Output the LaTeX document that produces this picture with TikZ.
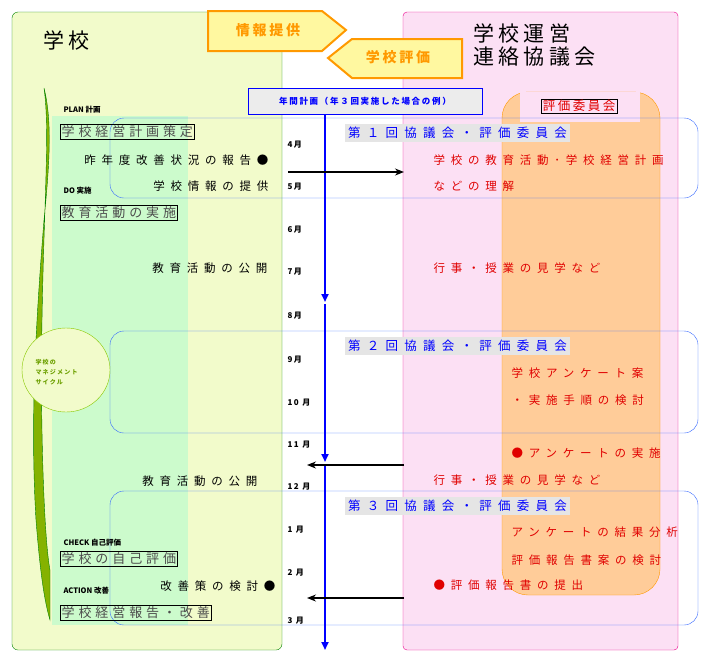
\documentclass[tikz,border=0pt]{standalone}
\usepackage{fontspec}
\setmainfont{Noto Sans CJK JP}
\newfontfamily\jpa[LetterSpace=50]{Noto Sans CJK JP}
\newfontfamily\jpb[LetterSpace=30]{Noto Sans CJK JP}
\newfontfamily\jpc[LetterSpace=20]{Noto Sans CJK JP}
\usetikzlibrary{arrows.meta}
\definecolor{lgreen}{HTML}{F2FBCB}
\definecolor{mgreen}{HTML}{CCFBCC}
\definecolor{lpink}{HTML}{FCE0F4}
\definecolor{lorange}{HTML}{FFCC99}
\definecolor{borange}{HTML}{FF9900}
\definecolor{lyell}{HTML}{FFF8A0}
\definecolor{tblue}{HTML}{0000FF}
\definecolor{rblue}{HTML}{3366FF}
\definecolor{tred}{HTML}{E00000}
\definecolor{leaf}{HTML}{88C800}
\tikzset{
 mon/.style={font=\jpc\fontsize{8}{8}\selectfont\bfseries, anchor=west},
 lt/.style={font=\jpa\fontsize{11.5}{11.5}\selectfont, anchor=east},
 rt/.style={font=\jpa\fontsize{11.5}{11.5}\selectfont, text=tred, anchor=west},
 bx/.style={draw=black, fill=none, font=\jpb\fontsize{13}{13}\selectfont, text=black!70, anchor=west, inner sep=1.5pt},
 phase/.style={font=\fontsize{7.5}{7.5}\selectfont\itshape\bfseries, anchor=west},
 rnd/.style={draw=rblue, rounded corners=14pt, thin},
 rtitle/.style={fill=gray!20, text=tblue, font=\jpa\fontsize{12.5}{12.5}\selectfont, anchor=west, inner sep=3pt},
 tl/.style={draw=tblue, line width=2.2pt, -{Triangle[width=7pt,length=8pt]}},
 arr/.style={draw=black, line width=1.3pt, -{Stealth[length=9pt,width=7pt]}}
}
\begin{document}
\begin{tikzpicture}[x=1pt,y=-1pt]
\useasboundingbox (0,0) rectangle (705,665);
% left box
\draw[draw=green!50!black, fill=lgreen, rounded corners=6pt] (12,12) rectangle (282,650);
\fill[mgreen] (52,116) rectangle (188,625);
% right box
\draw[draw=magenta, fill=lpink, rounded corners=4pt] (403,12) rectangle (678,650);
\draw[draw=borange, fill=lorange, rounded corners=26pt] (502,92) rectangle (660,595);
\fill[lpink] (520,92) rectangle (640,122);
\node[draw=black, text=tred, font=\jpc\fontsize{12.5}{12.5}\selectfont, inner sep=1.5pt] (iin) at (579,106) {評価委員会};
% titles
\node[font=\jpc\fontsize{21}{21}\selectfont, anchor=west] (gk) at (40,40) {学校};
\node[font=\jpc\fontsize{21}{21}\selectfont, anchor=west, align=left] (un) at (470,45) {学校運営\\[2pt]連絡協議会};
% banners
\draw[draw=borange, fill=lyell, line width=2pt] (208,11) -- (322,11) -- (346,30) -- (322,51) -- (208,51) -- cycle;
\node[text=borange, font=\jpc\fontsize{14}{14}\selectfont\bfseries] (jt) at (268,30) {情報提供};
\draw[draw=borange, fill=lyell, line width=2pt] (462,39) -- (352,39) -- (328,58) -- (352,78) -- (462,78) -- cycle;
\node[text=borange, font=\jpc\fontsize{14}{14}\selectfont\bfseries] (gh) at (398,57) {学校評価};
% annual plan
\node[draw=tblue, fill=gray!15, text=tblue, font=\jpc\fontsize{8.5}{8.5}\selectfont\bfseries, minimum width=234pt, minimum height=26pt, inner sep=0pt] (nk) at (365,101) {年間計画（年３回実施した場合の例）};
% rounds
\draw[rnd] (110,118) rectangle (698,198);
\draw[rnd] (110,331) rectangle (698,433);
\draw[rnd] (110,491) rectangle (698,625);
\node[rtitle] (r1) at (345,133) {第１回協議会・評価委員会};
\node[rtitle] (r2) at (345,346) {第２回協議会・評価委員会};
\node[rtitle] (r3) at (345,506) {第３回協議会・評価委員会};
% timeline
\coordinate (t0) at (325,115); \coordinate (t1) at (325,302);
\coordinate (t2) at (325,304); \coordinate (t3) at (325,462);
\coordinate (t4) at (325,464); \coordinate (t5) at (325,650);
\draw[tl] (t0) -- (t1);
\draw[tl] (t2) -- (t3);
\draw[tl] (t4) -- (t5);
% months
\foreach \m/\y in {4月/145,5月/187,6月/230,7月/272,8月/316,9月/360,10 月/403,11 月/445,12 月/487,1 月/530,2 月/573,3 月/621}
  \node[mon] at (284,\y) {\m};
% arrows
\coordinate (a1) at (288,172); \coordinate (a1e) at (404,172);
\draw[arr] (a1) -- (a1e);
\coordinate (a2) at (404,465); \coordinate (a2e) at (307,465);
\draw[arr] (a2) -- (a2e);
\coordinate (a3) at (404,598); \coordinate (a3e) at (307,598);
\draw[arr] (a3) -- (a3e);
% leaf
\draw[draw=green!50!black, fill=leaf!70!olive] (44,88) .. controls (52,120) and (50,160) .. (44,220) .. controls (36,320) and (30,420) .. (36,520) .. controls (40,570) and (44,600) .. (50,620) -- (50,570) .. controls (44,540) and (40,420) .. (42,320) .. controls (44,200) and (50,130) .. (44,88) -- cycle;
% ellipse
\draw[draw=leaf, fill=lgreen] (66,370) ellipse (44pt and 42pt);
\node[text=leaf!80!black, font=\jpc\fontsize{6}{7}\selectfont\bfseries, align=left, anchor=west] (mc) at (32,372) {学校の\\[3pt]マネジメント\\[3pt]サイクル};
% left texts
\node[phase] at (60,110) {PLAN 計画};
\node[bx] (b1) at (60,132) {学校経営計画策定};
\node[lt] at (272,160) {昨年度改善状況の報告●};
\node[lt] at (272,186) {学校情報の提供};
\node[phase] at (60,191) {DO 実施};
\node[bx] (b2) at (60,213) {教育活動の実施};
\node[lt] at (271,268) {教育活動の公開};
\node[lt] at (261,481) {教育活動の公開};
\node[phase] at (60,543) {CHECK 自己評価};
\node[bx] (b3) at (60,559) {学校の自己評価};
\node[lt] at (279,586) {改善策の検討●};
\node[phase] at (60,591) {ACTION 改善};
\node[bx] (b4) at (60,613) {学校経営報告・改善};
% right texts
\node[rt] at (430,160) {学校の教育活動･学校経営計画};
\node[rt] at (430,186) {などの理解};
\node[rt] at (430,268) {行事・授業の見学など};
\node[rt] at (508,373) {学校アンケート案};
\node[rt] at (508,400) {・実施手順の検討};
\node[rt] at (508,453) {●アンケートの実施};
\node[rt] at (430,480) {行事・授業の見学など};
\node[rt] at (508,532) {アンケートの結果分析};
\node[rt] at (508,560) {評価報告書案の検討};
\node[rt] at (430,585) {●評価報告書の提出};
\end{tikzpicture}
\end{document}
